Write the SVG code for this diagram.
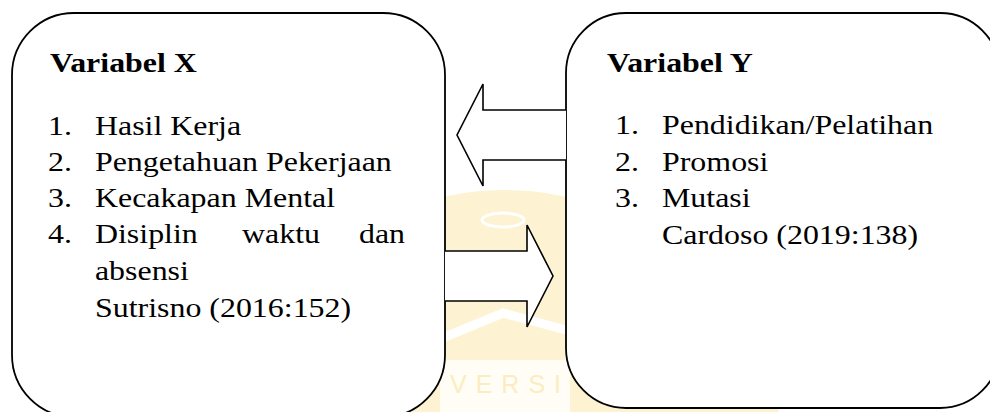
<svg xmlns="http://www.w3.org/2000/svg" width="990" height="412" viewBox="0 0 990 412">
<style>
.box{fill:#ffffff;stroke:#000;stroke-width:1.8}
.arr{fill:#ffffff;stroke:#000;stroke-width:1.6;stroke-linejoin:miter}
.t{font-family:"Liberation Serif","Times New Roman",serif;font-size:28px;fill:#000}
.b{font-weight:bold}
.wm{fill:#fdf3d2}
</style>
<rect width="990" height="412" fill="#ffffff"/>
<g id="watermark">
  <circle class="wm" cx="505" cy="470" r="280"/>
  <ellipse cx="503" cy="220" rx="21" ry="7" fill="none" stroke="#ffffff" stroke-width="3"/>
  <polyline points="445,337 503,313 566,330" fill="none" stroke="#ffffff" stroke-width="9"/>
  <rect x="440" y="360" width="130" height="52" fill="#fffdf6"/>
  <text x="450" y="393" font-family="Liberation Sans, Arial, sans-serif" font-size="25" letter-spacing="9" fill="#fbedc0">VERSI</text>
</g>
<g id="nodeX">
  <rect class="box" x="12" y="13" width="433" height="404" rx="62" ry="62"/>
  <g transform="scale(1.14,1)">
    <text class="t b" x="43.9" y="72">Variabel X</text>
    <text class="t" x="42.1" y="135">1.</text><text class="t" x="83.3" y="135">Hasil Kerja</text>
    <text class="t" x="42.1" y="171">2.</text><text class="t" x="83.3" y="171">Pengetahuan Pekerjaan</text>
    <text class="t" x="42.1" y="207">3.</text><text class="t" x="83.3" y="207">Kecakapan Mental</text>
    <text class="t" x="42.1" y="243">4.</text><text class="t" x="83.3" y="243">Disiplin</text><text class="t" x="212.3" y="243">waktu</text><text class="t" x="314.9" y="243">dan</text>
    <text class="t" x="83.3" y="280">absensi</text>
    <text class="t" x="83.3" y="317">Sutrisno (2016:152)</text>
  </g>
</g>
<g id="nodeY">
  <rect class="box" x="566" y="13" width="434" height="395" rx="60" ry="60"/>
  <g transform="scale(1.14,1)">
    <text class="t b" x="532.5" y="72">Variabel Y</text>
    <text class="t" x="539.5" y="134">1.</text><text class="t" x="580.7" y="134">Pendidikan/Pelatihan</text>
    <text class="t" x="539.5" y="171">2.</text><text class="t" x="580.7" y="171">Promosi</text>
    <text class="t" x="539.5" y="207">3.</text><text class="t" x="580.7" y="207">Mutasi</text>
    <text class="t" x="580.7" y="244">Cardoso (2019:138)</text>
  </g>
</g>
<g id="connectors">
  <polyline class="arr" points="566,110 483,110 483,84 457,135 483,186 483,160 566,160"/>
  <polyline class="arr" points="445,251 527,251 527,225 553,276 527,327 527,301 445,301"/>
</g>
</svg>
